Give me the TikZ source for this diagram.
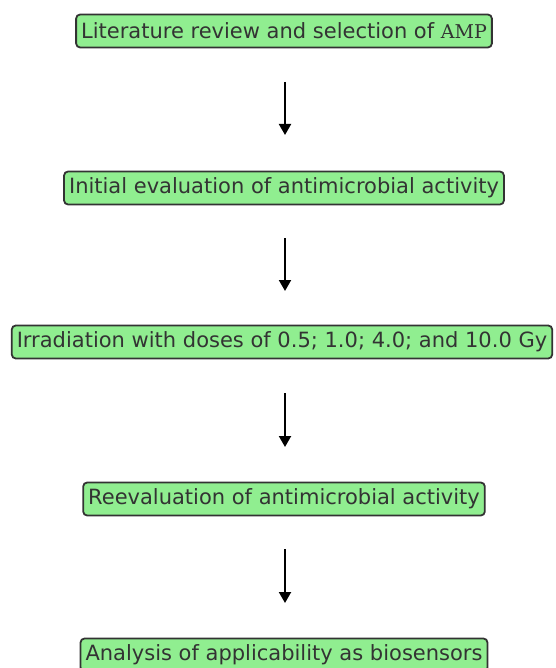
\documentclass[tikz,border=0pt]{standalone}
\usepackage{fontspec}
\setmainfont{DejaVu Sans}
\newfontfamily\amptfont{DejaVu Serif}
\usetikzlibrary{arrows.meta}
\definecolor{boxfill}{HTML}{90EE90}
\definecolor{boxedge}{HTML}{333333}
\tikzset{
  stepbox/.style={draw=boxedge, line width=1.8pt, fill=boxfill, rounded corners=4pt,
    minimum height=33pt, inner xsep=5pt, inner ysep=0pt, font=\fontsize{21}{24}\selectfont, text=black!80},
  flowarrow/.style={-{Triangle[length=11pt,width=12pt]}, line width=2pt, draw=black}
}
\begin{document}
\begin{tikzpicture}[x=1pt,y=-1pt]
\useasboundingbox (0,0) rectangle (555,668);
\node[stepbox] (b1) at (284,31) {Literature review and selection of {\amptfont\fontsize{19}{24}\selectfont AMP}};
\node[stepbox] (b2) at (284,188) {Initial evaluation of antimicrobial activity};
\node[stepbox] (b3) at (282,342) {Irradiation with doses of 0.5; 1.0; 4.0; and 10.0 Gy};
\node[stepbox] (b4) at (284,499) {Reevaluation of antimicrobial activity};
\node[stepbox] (b5) at (284,655) {Analysis of applicability as biosensors};
\coordinate (a1s) at (285,82); \coordinate (a1e) at (285,135);
\coordinate (a2s) at (285,238); \coordinate (a2e) at (285,291);
\coordinate (a3s) at (285,393); \coordinate (a3e) at (285,447);
\coordinate (a4s) at (285,549); \coordinate (a4e) at (285,603);
\draw[flowarrow] (a1s) -- (a1e);
\draw[flowarrow] (a2s) -- (a2e);
\draw[flowarrow] (a3s) -- (a3e);
\draw[flowarrow] (a4s) -- (a4e);
\end{tikzpicture}
\end{document}
